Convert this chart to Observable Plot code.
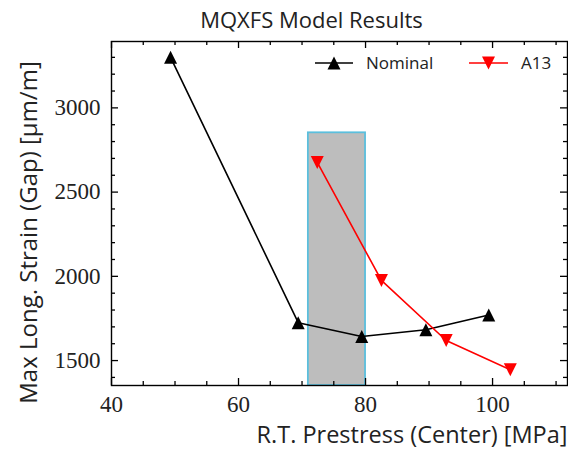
<!DOCTYPE html>
<html>
<head>
<meta charset="utf-8">
<script src="https://cdn.jsdelivr.net/npm/d3@7"></script>
<script src="https://cdn.jsdelivr.net/npm/@observablehq/plot@0.6"></script>
<style>
  html, body { margin: 0; padding: 0; background: white; }
  #wrap { position: relative; width: 568px; height: 449px; }
  #legend { position: absolute; left: 0; top: 0; pointer-events: none; }
</style>
</head>
<body>
<div id="wrap"></div>
<script>
// ---- data ----
const title = "MQXFS Model Results";
const xLabel = "R.T. Prestress (Center) [MPa]";
const yLabel = "Max Long. Strain (Gap) [µm/m]";
const seriesNames = ["Nominal", "A13"];
const seriesColors = ["black", "red"];

const nominalX = [49.3, 69.4, 79.4, 89.5, 99.4];
const nominalY = [3300, 1725, 1643, 1683, 1771];

const a13X = [72.4, 82.5, 92.7, 102.8];
const a13Y = [2676, 1976, 1619, 1445];

const shadeX = [71, 80];
const shadeTop = 2852;

const xDomain = [40, 111.8];
const yDomain = [1352, 3394];
const xMajor = [40, 60, 80, 100];
const xMinor = [45, 50, 55, 65, 70, 75, 85, 90, 95, 105, 110];
const yMajor = [1500, 2000, 2500, 3000];
const yMinor = [1400, 1600, 1700, 1800, 1900, 2100, 2200, 2300, 2400, 2600, 2700, 2800, 2900, 3100, 3200, 3300];

// ---- build tables ----
const nominal = nominalX.map((x, i) => ({x, y: nominalY[i]}));
const a13 = a13X.map((x, i) => ({x, y: a13Y[i]}));
const shade = [{x1: shadeX[0], x2: shadeX[1], y1: yDomain[0], y2: shadeTop}];

const W = 568, H = 449;
const mT = 41, mR = 1, mB = 64, mL = 111;
const pH = H - mT - mB, pW = W - mL - mR;

const triUp = {draw(ctx, size) { const r = Math.sqrt(size / Math.PI); ctx.moveTo(0, -r); ctx.lineTo(r, r); ctx.lineTo(-r, r); ctx.closePath(); }};
const triDown = {draw(ctx, size) { const r = Math.sqrt(size / Math.PI); ctx.moveTo(0, r); ctx.lineTo(r, -r); ctx.lineTo(-r, -r); ctx.closePath(); }};

const sans = "'Open Sans', Lato, sans-serif";
const serif = "'Liberation Serif', 'DejaVu Serif', serif";
const tickW = 1.3;
const fmt = d3.format("d");

const chart = Plot.plot({
  width: W, height: H,
  marginTop: mT, marginRight: mR, marginBottom: mB, marginLeft: mL,
  x: {domain: xDomain},
  y: {domain: yDomain},
  style: {background: "white", color: "black", fontFamily: serif, fontSize: "23px"},
  marks: [
    Plot.rect(shade, {x1: "x1", x2: "x2", y1: "y1", y2: "y2", fill: "#bdbdbd", stroke: "#5bbfdd", strokeWidth: 1.8}),
    Plot.line(nominal, {x: "x", y: "y", stroke: seriesColors[0], strokeWidth: 1.6}),
    Plot.dot(nominal, {x: "x", y: "y", symbol: triUp, r: 6.5, fill: seriesColors[0], stroke: null}),
    Plot.line(a13, {x: "x", y: "y", stroke: seriesColors[1], strokeWidth: 1.6}),
    Plot.dot(a13, {x: "x", y: "y", symbol: triDown, r: 6.5, fill: seriesColors[1], stroke: null}),
    Plot.frame({stroke: "black", strokeWidth: 1.4}),
    // inward ticks on all four sides
    Plot.tickX(xMajor, {x: d => d, insetTop: pH - 7, stroke: "black", strokeWidth: tickW}),
    Plot.tickX(xMajor, {x: d => d, insetBottom: pH - 7, stroke: "black", strokeWidth: tickW}),
    Plot.tickX(xMinor, {x: d => d, insetTop: pH - 4, stroke: "black", strokeWidth: tickW}),
    Plot.tickX(xMinor, {x: d => d, insetBottom: pH - 4, stroke: "black", strokeWidth: tickW}),
    Plot.tickY(yMajor, {y: d => d, insetRight: pW - 7, stroke: "black", strokeWidth: tickW}),
    Plot.tickY(yMajor, {y: d => d, insetLeft: pW - 7, stroke: "black", strokeWidth: tickW}),
    Plot.tickY(yMinor, {y: d => d, insetRight: pW - 4, stroke: "black", strokeWidth: tickW}),
    Plot.tickY(yMinor, {y: d => d, insetLeft: pW - 4, stroke: "black", strokeWidth: tickW}),
    Plot.axisX({ticks: xMajor, tickFormat: fmt, tickSize: 0, tickPadding: 10, label: null, fill: "#222", fontFamily: serif, fontSize: 23}),
    Plot.axisY({ticks: yMajor, tickFormat: fmt, tickSize: 0, tickPadding: 11, label: null, fill: "#222", fontFamily: serif, fontSize: 23}),
    Plot.text([xLabel], {frameAnchor: "bottom-right", textAnchor: "end", lineAnchor: "middle", dy: 50, fontFamily: sans, fontSize: 23.5, fill: "#222"}),
    Plot.text([yLabel], {frameAnchor: "left", rotate: -90, textAnchor: "middle", lineAnchor: "middle", dx: -82.5, dy: 19, fontFamily: sans, fontSize: 24, fill: "#222"}),
    Plot.text([title], {frameAnchor: "top", textAnchor: "middle", lineAnchor: "middle", dx: -28, dy: -21, fontFamily: sans, fontSize: 22, fill: "#222"})
  ]
});

const wrap = document.getElementById("wrap");
wrap.appendChild(chart);

// ---- legend (upper right, no frame) ----
const ns = "http://www.w3.org/2000/svg";
const lg = document.createElementNS(ns, "svg");
lg.setAttribute("id", "legend");
lg.setAttribute("width", W);
lg.setAttribute("height", 100);
const items = [
  {name: seriesNames[0], color: seriesColors[0], x0: 315, x1: 353, tx: 366, up: true},
  {name: seriesNames[1], color: seriesColors[1], x0: 469, x1: 508, tx: 521, up: false}
];
const ly = 63, r = 6.5;
for (const it of items) {
  const line = document.createElementNS(ns, "line");
  line.setAttribute("x1", it.x0); line.setAttribute("x2", it.x1);
  line.setAttribute("y1", ly); line.setAttribute("y2", ly);
  line.setAttribute("stroke", it.color); line.setAttribute("stroke-width", 1.6);
  lg.appendChild(line);
  const cx = (it.x0 + it.x1) / 2;
  const tri = document.createElementNS(ns, "path");
  const d = it.up
    ? `M${cx},${ly - r}L${cx + r},${ly + r}L${cx - r},${ly + r}Z`
    : `M${cx},${ly + r}L${cx + r},${ly - r}L${cx - r},${ly - r}Z`;
  tri.setAttribute("d", d); tri.setAttribute("fill", it.color);
  lg.appendChild(tri);
  const t = document.createElementNS(ns, "text");
  t.setAttribute("x", it.tx); t.setAttribute("y", ly);
  t.setAttribute("dy", "0.36em");
  t.setAttribute("font-family", sans); t.setAttribute("font-size", 17);
  t.setAttribute("fill", "#222");
  t.textContent = it.name;
  lg.appendChild(t);
}
wrap.appendChild(lg);
</script>
</body>
</html>
